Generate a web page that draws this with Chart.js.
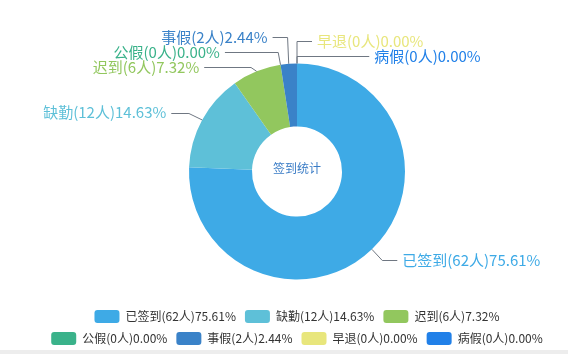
<!DOCTYPE html>
<html>
<head>
<meta charset="utf-8">
<script src="https://cdn.jsdelivr.net/npm/chart.js@4.4.0/dist/chart.umd.min.js"></script>
<style>
  html, body { margin: 0; padding: 0; background: #ededed; }
  #wrap { width: 568px; height: 350px; background: #fff; }
</style>
</head>
<body>
<div id="wrap"><canvas id="myChart" width="568" height="350"></canvas></div>
<script>
const categories = ['已签到', '缺勤', '迟到', '公假', '事假', '早退', '病假'];
const counts = [62, 12, 6, 0, 2, 0, 0];
const colors = ['#3eaae6', '#5ec0d8', '#92c75e', '#3ab28a', '#3a82c8', '#e8e67c', '#2180e8'];
const centerText = '签到统计';

const FONT = "'Noto Sans CJK SC', 'Noto Sans', sans-serif";
const total = counts.reduce((a, b) => a + b, 0);
const labels = categories.map((c, i) => `${c}(${counts[i]}人)${(counts[i] / total * 100).toFixed(2)}%`);

// outer labels with leader lines, spread out when they collide
const outerLabels = {
  id: 'outerLabels',
  afterDatasetsDraw(chart) {
    const ctx = chart.ctx;
    const arcs = chart.getDatasetMeta(0).data;
    const LEN = 15, LEN2 = 15, GAP = 5, LH = 15;
    let cx = 0, cy = 0, r = 0;

    const items = arcs.map((arc, i) => {
      const p = arc.getProps(['x', 'y', 'startAngle', 'endAngle', 'outerRadius']);
      cx = p.x; cy = p.y; r = p.outerRadius;
      const mid = (p.startAngle + p.endAngle) / 2;
      const cos = Math.cos(mid), sin = Math.sin(mid);
      const dir = cos > -1e-6 ? 1 : -1;
      const x1 = cx + (r + LEN) * cos;
      const y1 = cy + (r + LEN) * sin;
      return { i, dir, x0: cx + r * cos, y0: cy + r * sin, x1, y: y1, ly: y1, lx: x1 + dir * LEN2 };
    });

    [1, -1].forEach(dir => {
      const side = items.filter(it => it.dir === dir).sort((a, b) => a.y - b.y);
      if (side.length < 2) return;
      let groups = side.map(it => ({ items: [it], mean: it.y }));
      const place = g => {
        const top = g.mean - (g.items.length - 1) * LH / 2;
        g.items.forEach((it, k) => { it.ly = top + k * LH; });
      };
      groups.forEach(place);
      let changed = true, shifted = false;
      while (changed) {
        changed = false;
        for (let k = 0; k < groups.length - 1; k++) {
          const a = groups[k], b = groups[k + 1];
          if (b.items[0].ly - a.items[a.items.length - 1].ly < LH) {
            const merged = a.items.concat(b.items);
            const mean = merged.reduce((s, it) => s + it.y, 0) / merged.length;
            groups.splice(k, 2, { items: merged, mean });
            place(groups[k]);
            changed = shifted = true;
            break;
          }
        }
      }
      if (!shifted) return;
      // put label ends on an ellipse round the pie
      const rA = r + LEN;
      [side.filter(it => it.ly < cy), side.filter(it => it.ly >= cy)].forEach(semi => {
        if (!semi.length) return;
        let far = semi[0];
        semi.forEach(it => { if (Math.abs(it.ly - cy) > Math.abs(far.ly - cy)) far = it; });
        const fdy = Math.abs(far.ly - cy);
        const fdx = far.lx - cx - LEN2 * dir;
        const rB = Math.abs(fdx) < rA ? Math.sqrt(fdy * fdy / (1 - fdx * fdx / rA / rA)) : rA;
        semi.forEach(it => {
          const dy = Math.abs(it.ly - cy);
          const dx = Math.sqrt(Math.max(0, 1 - dy * dy / rB / rB)) * rA;
          it.lx = cx + (dx + LEN2) * dir;
        });
      });
    });

    ctx.save();
    ctx.lineWidth = 1;
    ctx.strokeStyle = '#6f7782';
    ctx.font = '15px ' + FONT;
    ctx.textBaseline = 'middle';
    items.forEach(it => {
      const ly = Math.round(it.ly) + 0.5;
      ctx.beginPath();
      ctx.moveTo(it.x0, it.y0);
      ctx.lineTo(it.x1, ly);
      ctx.lineTo(it.lx, ly);
      ctx.stroke();
      ctx.fillStyle = colors[it.i];
      ctx.textAlign = it.dir > 0 ? 'left' : 'right';
      ctx.fillText(labels[it.i], it.lx + it.dir * GAP, it.ly);
    });
    ctx.restore();
  }
};

const centerLabel = {
  id: 'centerLabel',
  afterDatasetsDraw(chart) {
    const arc = chart.getDatasetMeta(0).data[0];
    const ctx = chart.ctx;
    ctx.save();
    ctx.font = '12px ' + FONT;
    ctx.fillStyle = '#3a7cc6';
    ctx.textAlign = 'center';
    ctx.textBaseline = 'middle';
    ctx.fillText(centerText, arc.x, arc.y - 3);
    ctx.restore();
  }
};

Chart.defaults.font.family = FONT;

let ctx = document.getElementById('myChart').getContext('2d');
let myChart = new Chart(ctx, {
  type: 'doughnut',
  data: {
    labels: labels,
    datasets: [{
      data: counts,
      backgroundColor: colors,
      borderWidth: 0
    }]
  },
  options: {
    animation: false,
    responsive: false,
    devicePixelRatio: 1,
    radius: 108,
    cutout: 54,
    layout: { padding: { top: 42, left: 26, right: 0, bottom: -5 } },
    plugins: {
      tooltip: { enabled: false },
      legend: {
        position: 'bottom',
        labels: {
          boxWidth: 25,
          boxHeight: 13,
          useBorderRadius: true,
          borderRadius: 3,
          padding: 9,
          color: '#333',
          font: { size: 12 }
        }
      }
    }
  },
  plugins: [outerLabels, centerLabel]
});
</script>
</body>
</html>
